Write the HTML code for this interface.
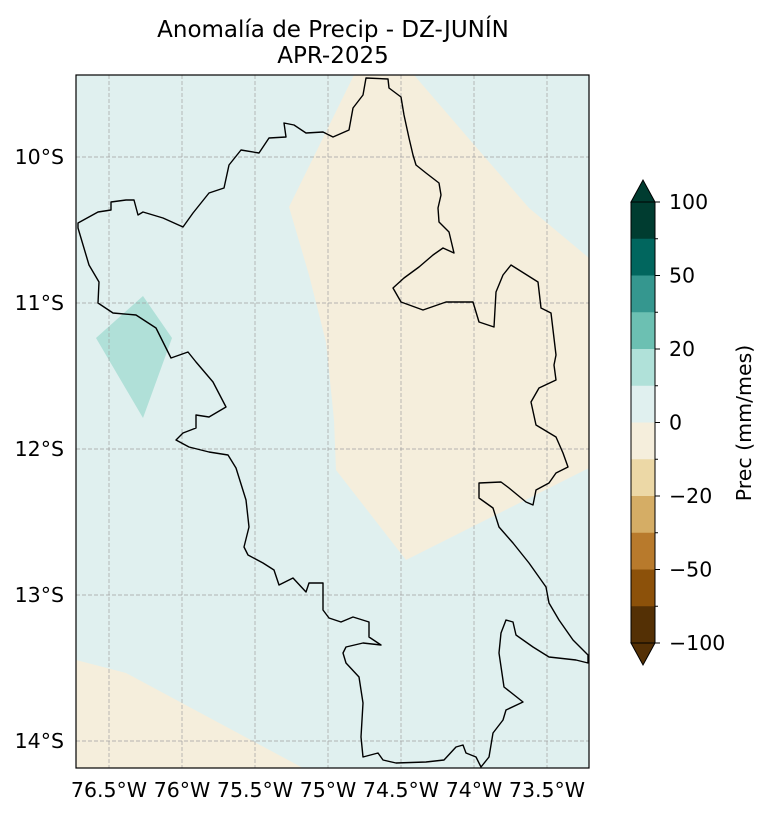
<!DOCTYPE html>
<html><head><meta charset="utf-8"><style>
body{margin:0;background:#fff;font-family:"Liberation Sans","DejaVu Sans",sans-serif}
svg text{font-family:"DejaVu Sans","Liberation Sans",sans-serif;fill:#000}
</style></head><body>
<svg width="770" height="814" xmlns="http://www.w3.org/2000/svg">
<text x="333" y="37" font-size="23" text-anchor="middle">Anomalía de Precip - DZ-JUNÍN</text>
<text x="333" y="63" font-size="23" text-anchor="middle">APR-2025</text>
<defs><clipPath id="pc"><rect x="76" y="75" width="513" height="693"/></clipPath></defs>
<g clip-path="url(#pc)">
<rect x="76" y="75" width="513" height="693" fill="#e0f0ef"/>
<polygon fill="#f5eedc" points="354,75 414,75 476,147 529,208 589,258 589,468 406,560 336,470 334,420 326,342 309,275 289,207"/>
<polygon fill="#f5eedc" points="76,660 126,673 303,768 76,768"/>
<polygon fill="#b0e0d8" points="143,296 172,338 143,418 96,338"/>
<g id="grid" stroke="#a0a0a0" stroke-width="0.7" stroke-dasharray="4,2"></g>
<polygon fill="none" stroke="#000" stroke-width="1.4" stroke-linejoin="round" points="366,78 388,79 389,88 401,97 404,115 409,138 413,155 416,165 426,173 439,183 441,195 438,208 439,222 449,232 454,253 443,248 433,255 419,267 404,278 393,288 401,302 423,310 446,302 473,302 479,322 494,327 496,292 503,275 511,265 538,282 541,308 551,313 556,355 554,365 556,380 539,388 531,402 536,425 556,437 563,453 568,467 556,473 549,483 536,490 533,505 526,502 509,488 501,482 479,483 479,498 493,508 499,527 513,543 529,563 546,587 549,603 559,620 573,640 588,655 588,663 576,660 549,657 533,647 516,635 513,622 506,620 501,633 499,653 504,687 523,702 506,710 503,720 493,733 489,757 481,767 476,757 466,753 463,745 456,747 444,760 426,762 396,763 383,760 378,753 363,757 361,737 363,703 359,677 346,663 343,653 346,647 363,643 381,645 369,637 369,622 353,617 341,622 329,618 323,610 323,583 309,583 306,592 293,578 279,585 274,570 263,563 248,555 244,547 249,527 246,500 236,468 228,455 209,452 189,447 176,440 183,433 196,428 196,415 209,417 226,407 213,382 196,362 188,352 171,358 156,328 136,315 113,313 98,303 99,282 89,265 78,228 78,223 98,212 111,210 111,202 126,200 134,200 138,215 143,212 163,218 183,227 193,213 209,193 224,188 229,165 241,150 259,153 269,138 286,137 284,123 294,125 306,133 323,132 333,137 349,130 353,108 363,95"/>
</g>
<rect x="76" y="75" width="513" height="693" fill="none" stroke="#000" stroke-width="1.2"/>
<g id="axes"></g>
<g id="cbar"></g>
<text transform="translate(751,423) rotate(-90)" font-size="20.5" text-anchor="middle">Prec (mm/mes)</text>
</svg>
<script>
const lonTicks=[-76.5,-76,-75.5,-75,-74.5,-74,-73.5];
const lonLabels=["76.5°W","76°W","75.5°W","75°W","74.5°W","74°W","73.5°W"];
const latTicks=[-10,-11,-12,-13,-14];
const latLabels=["10°S","11°S","12°S","13°S","14°S"];
const cbLevels=[100,75,50,35,20,10,0,-10,-20,-35,-50,-75,-100];
const cbColors=["#003c30","#01665e","#35978f","#6cc0b2","#b0e1d9","#e0f0ef","#f5eedc","#ecd8a6","#d5ad65","#b87a2c","#8c510a","#543005"];
const cbTickVals=[100,50,20,0,-20,-50,-100];
const cbTickLabels=["100","50","20","0","\u221220","\u221250","\u2212100"];
const NS="http://www.w3.org/2000/svg";
const xs=lon=>109+(lon+76.5)*146;
const ys=lat=>157+(-10-lat)*146;
function mk(tag,attrs,parent){const e=document.createElementNS(NS,tag);for(const k in attrs)e.setAttribute(k,attrs[k]);parent.appendChild(e);return e;}
const grid=document.getElementById('grid'),axes=document.getElementById('axes'),cb=document.getElementById('cbar');
lonTicks.forEach((v,i)=>{const x=xs(v);
 const l=mk('line',{x1:x,x2:x,y1:75,y2:768},grid);
 
 
 const t=mk('text',{x:x,y:797,'font-size':20.5,'text-anchor':'middle'},axes);t.textContent=lonLabels[i];
 
 
});
latTicks.forEach((v,i)=>{const y=ys(v);
 const l=mk('line',{x1:76,x2:589,y1:y,y2:y},grid);
 
 
 const t=mk('text',{x:64,y:y+7,'font-size':20.5,'text-anchor':'end'},axes);t.textContent=latLabels[i];
 
 
});
const cbX=631,cbW=24,cbTop=202,cbBot=643,n=cbLevels.length-1,seg=(cbBot-cbTop)/n;
const idxY=i=>cbTop+i*seg;
const valY=v=>idxY(cbLevels.indexOf(v));
cbColors.forEach((c,i)=>{const r=mk('rect',{x:cbX,y:idxY(i),width:cbW,height:seg+0.5,fill:c},cb);
 
 });
const up=mk('polygon',{points:`${cbX},${cbTop} ${cbX+cbW/2},${cbTop-22} ${cbX+cbW},${cbTop}`,fill:cbColors[0],stroke:'#000','stroke-width':1},cb);


const dn=mk('polygon',{points:`${cbX},${cbBot} ${cbX+cbW/2},${cbBot+22} ${cbX+cbW},${cbBot}`,fill:cbColors[cbColors.length-1],stroke:'#000','stroke-width':1},cb);


mk('rect',{x:cbX,y:cbTop,width:cbW,height:cbBot-cbTop,fill:'none',stroke:'#000','stroke-width':1},cb);
cbLevels.forEach((v,i)=>{const y=idxY(i);const major=cbTickVals.includes(v);
 mk('line',{x1:cbX+cbW,x2:cbX+cbW+(major?5:3),y1:y,y2:y,stroke:'#000','stroke-width':1},cb);});
cbTickVals.forEach((v,i)=>{const t=mk('text',{x:cbX+cbW+14,y:valY(v)+7,'font-size':20.5},cb);t.textContent=cbTickLabels[i];
 
 });
</script>
</body></html>
